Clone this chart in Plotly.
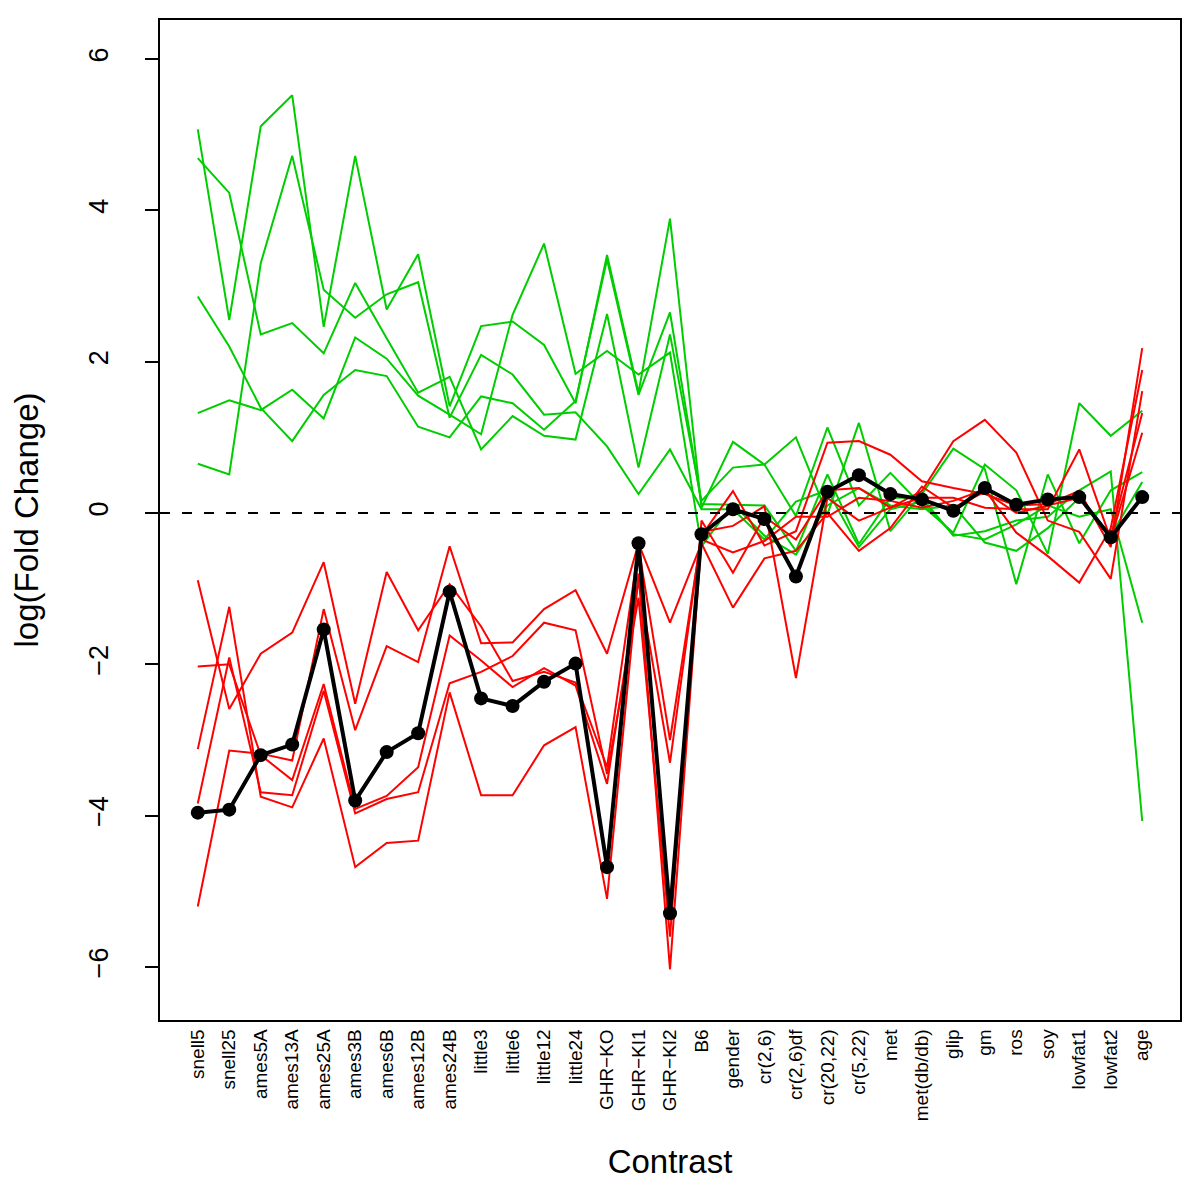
import plotly.graph_objects as go

categories = ["snell5", "snell25", "ames5A", "ames13A", "ames25A", "ames3B", "ames6B",
              "ames12B", "ames24B", "little3", "little6", "little12", "little24",
              "GHR\u2212KO", "GHR\u2212KI1", "GHR\u2212KI2", "B6", "gender", "cr(2,6)",
              "cr(2,6)df", "cr(20,22)", "cr(5,22)", "met", "met(db/db)", "glip", "gm",
              "ros", "soy", "lowfat1", "lowfat2", "age"]

mean_line = [-3.96, -3.92, -3.20, -3.06, -1.54, -3.80, -3.16, -2.91, -1.04, -2.45, -2.55,
             -2.23, -1.99, -4.68, -0.40, -5.29, -0.28, 0.05, -0.08, -0.84, 0.28, 0.50,
             0.25, 0.18, 0.03, 0.33, 0.11, 0.18, 0.21, -0.32, 0.21]

green_1 = [5.07, 2.55, 5.11, 5.52, 2.46, 4.72, 2.69, 3.42, 1.41, 2.47, 2.53, 2.22, 1.45, 3.41, 1.59, 3.89,
           0.07, 0.94, 0.64, -0.04, 1.13, 0.10, 0.53, 0.10, -0.26, 0.64, 0.30, -0.54, 1.45, 1.02, 1.35]
green_2 = [4.69, 4.23, 2.36, 2.51, 2.11, 3.04, 2.31, 1.59, 1.80, 0.84, 1.28, 1.02, 0.97, 2.63, 0.60, 2.36,
           0.16, 0.60, 0.64, 1.00, -0.02, 1.19, -0.24, 0.25, 0.85, 0.58, -0.94, 0.51, -0.40, 0.30, 0.54]
green_3 = [2.86, 2.20, 1.39, 0.95, 1.56, 1.89, 1.81, 1.14, 1.00, 1.54, 1.45, 1.10, 1.48, 3.35, 1.56, 2.65,
           0.12, 0.11, 0.10, -0.50, 0.51, -0.41, 0.20, 0.20, -0.30, -0.24, -0.10, -0.05, 0.30, 0.55, -4.07]
green_4 = [1.32, 1.49, 1.36, 1.63, 1.25, 2.32, 2.04, 1.55, 1.30, 1.04, 2.62, 3.56, 1.84, 2.14, 1.83, 2.12,
           -0.44, 0.12, -0.30, -0.55, 0.10, 0.33, 0.10, 0.05, 0.10, -0.39, -0.50, -0.20, 0.20, -0.30, 0.41]
green_5 = [0.65, 0.51, 3.30, 4.72, 2.95, 2.58, 2.89, 3.05, 1.26, 2.09, 1.83, 1.30, 1.33, 0.88, 0.25, 0.84,
           0.05, 0.05, -0.35, 0.15, 0.30, -0.45, 0.05, 0.15, -0.28, -0.35, -0.15, 0.10, -0.05, 0.05, -1.45]

red_1 = [-0.89, -2.59, -1.86, -1.58, -0.65, -2.52, -0.78, -1.55, -0.94, -1.50, -2.22, -2.10, -2.24, -3.36, -0.45, -3.00,
         -0.30, 0.29, -0.43, -0.24, 0.93, 0.95, 0.77, 0.42, 0.33, 0.25, 0.10, 0.12, 0.29, -0.45, 2.18]
red_2 = [-2.03, -2.00, -3.20, -3.53, -2.26, -3.91, -3.74, -3.36, -1.62, -1.95, -2.30, -2.05, -2.28, -3.58, -0.90, -3.30,
         -0.25, -0.17, 0.09, -2.18, 0.20, -0.10, 0.07, 0.29, 0.95, 1.23, 0.80, -0.10, -0.25, -0.87, 1.61]
red_3 = [-3.12, -1.24, -3.75, -3.89, -2.98, -4.68, -4.36, -4.33, -2.37, -3.73, -3.73, -3.07, -2.83, -5.10, -0.80, -6.03,
         -0.35, -0.52, -0.37, -0.05, -0.05, 0.20, 0.16, 0.07, 0.16, 0.31, -0.26, -0.57, -0.92, -0.20, 1.89]
red_4 = [-3.84, -1.91, -3.69, -3.73, -2.35, -3.97, -3.78, -3.69, -2.25, -2.10, -1.89, -1.45, -1.55, -3.45, -1.12, -5.60,
         -0.10, -0.79, -0.05, -0.35, 0.30, 0.33, 0.07, 0.20, 0.20, 0.07, 0.05, 0.05, 0.84, -0.35, 1.06]
red_5 = [-5.20, -3.14, -3.18, -3.27, -1.27, -2.87, -1.76, -1.97, -0.44, -1.72, -1.71, -1.27, -1.02, -1.86, -0.40, -1.45,
         -0.40, -1.25, -0.60, -0.50, 0.00, -0.50, -0.20, 0.35, 0.07, 0.28, 0.00, 0.10, 0.20, -0.30, 1.32]

y_ticks = [-6, -4, -2, 0, 2, 4, 6]
y_tick_text = ["\u22126", "\u22124", "\u22122", "0", "2", "4", "6"]

GREEN = "#00CD00"
RED = "#FF0000"
FONT = "Liberation Sans, Arial, Helvetica, sans-serif"

x = list(range(1, len(categories) + 1))

fig = go.Figure()

for s in [green_1, green_2, green_3, green_4, green_5]:
    fig.add_trace(go.Scatter(x=x, y=s, mode="lines", line=dict(color=GREEN, width=2),
                             showlegend=False, hoverinfo="skip"))
for s in [red_1, red_2, red_3, red_4, red_5]:
    fig.add_trace(go.Scatter(x=x, y=s, mode="lines", line=dict(color=RED, width=2),
                             showlegend=False, hoverinfo="skip"))

fig.add_hline(y=0, line=dict(color="black", width=2, dash="10px,12px"))

fig.add_trace(go.Scatter(x=x, y=mean_line, mode="lines+markers",
                         line=dict(color="black", width=4),
                         marker=dict(color="black", size=14),
                         showlegend=False))

fig.update_layout(
    width=1200, height=1200,
    margin=dict(l=152, r=28, t=10, b=188),
    paper_bgcolor="white", plot_bgcolor="white",
    font=dict(family=FONT, color="black"),
)

fig.update_xaxes(
    range=[-0.2, 32.2],
    tickmode="array", tickvals=x, ticktext=categories,
    tickangle=-90, tickfont=dict(size=19, family=FONT),
    ticks="", showgrid=False, zeroline=False,
    showline=True, linecolor="black", linewidth=1.5, mirror=True,
    title=dict(text="Contrast", font=dict(size=33, family=FONT), standoff=30),
)
fig.update_yaxes(
    range=[-6.70, 6.515],
    tickmode="array", tickvals=y_ticks, ticktext=y_tick_text,
    tickangle=-90, tickfont=dict(size=27, family=FONT),
    ticks="outside", ticklen=13, tickwidth=1.5, tickcolor="black",
    ticklabelstandoff=26,
    showgrid=False, zeroline=False,
    showline=True, linecolor="black", linewidth=1.5, mirror=True,
    title=dict(text="log(Fold Change)", font=dict(size=33, family=FONT), standoff=38),
)

fig.write_html("out.html")
